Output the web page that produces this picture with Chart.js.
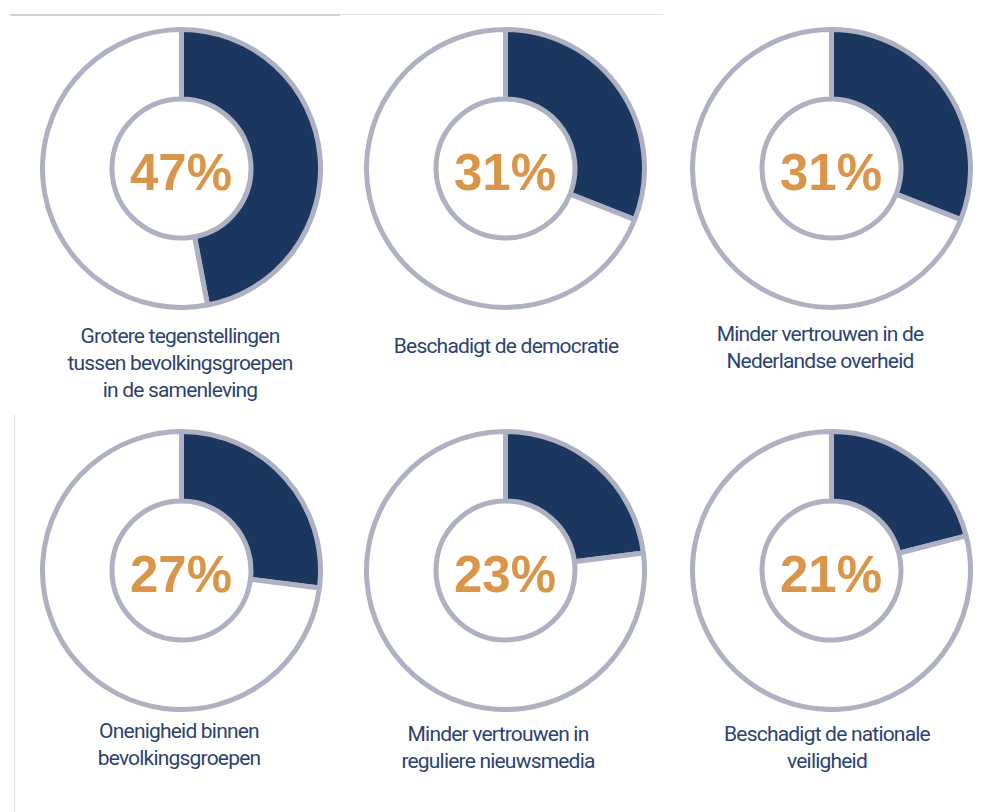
<!DOCTYPE html>
<html lang="nl">
<head>
<meta charset="utf-8">
<script src="https://cdn.jsdelivr.net/npm/chart.js@4.4.1/dist/chart.umd.min.js"></script>
<style>
    body { margin: 0; background: #fff; }
    #wrap { position: relative; width: 986px; height: 812px; overflow: hidden; }
    .ring { position: absolute; }
    .pct {
        position: absolute; width: 200px; margin-left: -100px; text-align: center;
        font: bold 51px "Liberation Sans", Arial, sans-serif; line-height: 51px; color: #d9964a;
    }
    .lbl {
        position: absolute; width: 320px; margin-left: -160px; text-align: center;
        font: 400 21px Roboto, sans-serif; line-height: 27px; letter-spacing: -0.8px; color: #2b4370;
    }
    .hline1 { position: absolute; left: 10px; top: 14px; width: 330px; height: 0; border-top: 2px solid #d2d2d2; }
    .hline2 { position: absolute; left: 340px; top: 14px; width: 323px; height: 0; border-top: 1px solid #e2e2e2; }
    .vline { position: absolute; left: 14px; top: 415px; width: 0; height: 400px; border-left: 1px solid #dcdcdc; }
</style>
</head>
<body>
<div id="wrap">
    <div class="hline1"></div>
    <div class="hline2"></div>
    <div class="vline"></div>
</div>
<script>
// ===== DATA =====
const labels = [
    ["Grotere tegenstellingen", "tussen bevolkingsgroepen", "in de samenleving"],
    ["Beschadigt de democratie"],
    ["Minder vertrouwen in de", "Nederlandse overheid"],
    ["Onenigheid binnen", "bevolkingsgroepen"],
    ["Minder vertrouwen in", "reguliere nieuwsmedia"],
    ["Beschadigt de nationale", "veiligheid"]
];
const percentages = [47, 31, 31, 27, 23, 21];

// ===== Layout (centre of ring, label centre/top) =====
const layout = [
    { cx: 181, cy: 168, lx: 180, ly: 323 },
    { cx: 505, cy: 168, lx: 506, ly: 333 },
    { cx: 831, cy: 168, lx: 820, ly: 321 },
    { cx: 181, cy: 570, lx: 179, ly: 718 },
    { cx: 505, cy: 570, lx: 498, ly: 721 },
    { cx: 831, cy: 570, lx: 827, ly: 721 }
];

const SIZE = 283;
const wrap = document.getElementById('wrap');

percentages.forEach((pct, i) => {
    const pos = layout[i];

    const canvas = document.createElement('canvas');
    canvas.className = 'ring';
    canvas.width = SIZE;
    canvas.height = SIZE;
    canvas.style.left = (pos.cx - SIZE / 2) + 'px';
    canvas.style.top = (pos.cy - SIZE / 2) + 'px';
    wrap.appendChild(canvas);

    new Chart(canvas.getContext('2d'), {
        type: 'doughnut',
        data: {
            labels: ['Ja', 'Overig'],
            datasets: [{
                data: [pct, 100 - pct],
                backgroundColor: ['#1b365f', '#ffffff'],
                borderColor: '#adb1c1',
                borderWidth: 5
            }]
        },
        options: {
            responsive: false,
            animation: false,
            events: [],
            cutout: '50%',
            layout: { padding: 0 },
            plugins: {
                legend: { display: false },
                tooltip: { enabled: false }
            }
        }
    });

    // percentage in het midden
    const p = document.createElement('div');
    p.className = 'pct';
    p.style.left = pos.cx + 'px';
    p.style.top = (pos.cy + 4 - 25) + 'px';
    p.textContent = pct + '%';
    wrap.appendChild(p);

    // label onder de ring
    const l = document.createElement('div');
    l.className = 'lbl';
    l.style.left = pos.lx + 'px';
    l.style.top = pos.ly + 'px';
    l.innerHTML = labels[i].join('<br>');
    wrap.appendChild(l);
});
</script>
</body>
</html>
